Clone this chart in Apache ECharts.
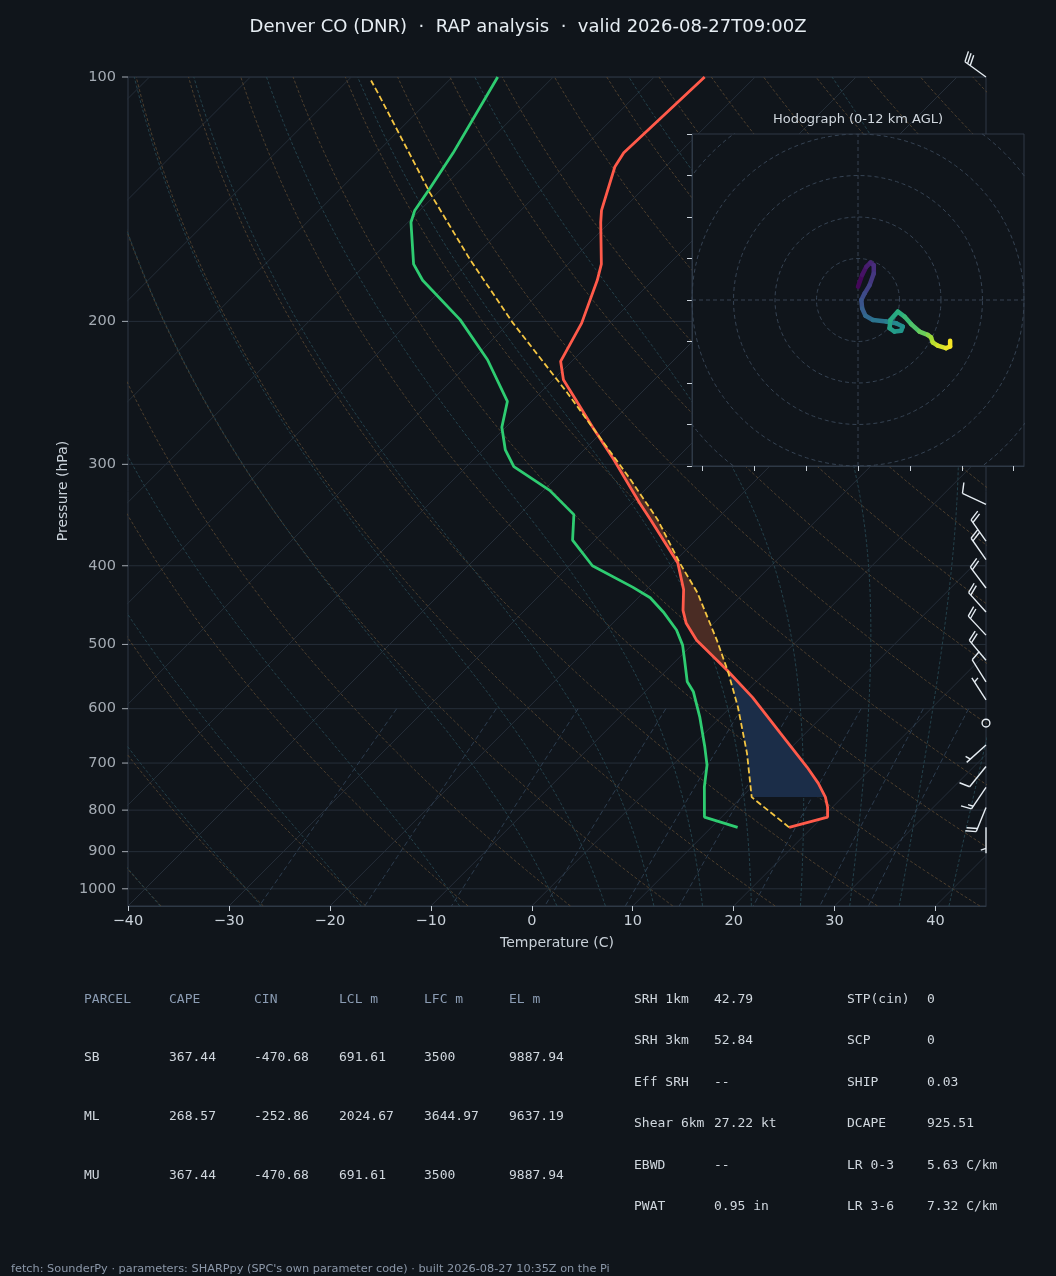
<!DOCTYPE html>
<html><head><meta charset="utf-8">
<script src="https://cdn.jsdelivr.net/npm/echarts@6/dist/echarts.min.js"></script>
<style>html,body{margin:0;padding:0;background:#10151b;}#c{width:1056px;height:1276px;}</style>
</head><body><div id="c"></div>
<script>
// ---------------- data ----------------
const tempP = [840, 816, 793, 771, 741, 708, 643, 581, 538, 494, 471, 454, 428, 397, 351, 335, 296, 270, 252, 236, 224, 201, 178, 170, 151, 146, 129, 124, 100];
const tempT = [17.7, 20.5, 19.5, 18.3, 16.2, 13.5, 7.5, 1.2, -4.0, -10.0, -12.7, -14.3, -16.3, -19.5, -26.5, -29.2, -36.1, -41.4, -45.3, -49.0, -51.1, -52.8, -55.5, -56.7, -60.9, -62.0, -65.0, -65.5, -65.0];
const dewP = [840, 816, 749, 704, 669, 614, 572, 556, 523, 501, 480, 456, 438, 425, 400, 372, 346, 323, 302, 288, 270, 251, 223, 199, 178, 170, 151, 146, 137, 124, 100];
const dewT = [12.6, 8.3, 5.3, 3.4, 1.4, -2.1, -5.2, -6.8, -9.2, -10.9, -13.0, -16.1, -18.8, -21.6, -27.7, -32.2, -34.6, -39.4, -45.3, -47.8, -50.4, -52.4, -58.5, -65.2, -72.8, -75.3, -79.7, -80.5, -81.2, -82.4, -85.5];
const parcelP = [840, 771, 681, 597, 541, 494, 432, 397, 351, 312, 245, 201, 168, 139, 105, 101];
const parcelT = [17.7, 11.0, 6.2, 0.7, -3.7, -8.0, -14.6, -19.3, -25.8, -32.7, -47.3, -59.6, -70.1, -80.7, -95.6, -97.7];
const capeLayer = [541, 270];   // LFC -> EL (hPa)
const cinLayer = [771, 541];    // LCL -> LFC (hPa)

const barbP   = [100, 336, 373, 393, 426, 456, 487, 523, 556, 585, 625, 665, 707, 750, 794, 840];
const barbSpd = [30, 10, 20, 20, 20, 20, 20, 20, 10, 5, 0, 5, 10, 15, 20, 5];
const barbDir = [306, 295, 325, 325, 323, 318, 317, 320, 328, 327, 0, 228, 219, 214, 202, 180];

const hodoU = [0, 1.0, 2.0, 3.0, 3.8, 3.8, 2.8, 1.6, 0.8, 1.0, 1.8, 3.6, 6.8, 9.2, 10.8, 10.4, 8.8, 7.6, 7.8, 9.6, 11.2, 12.8, 14.8, 16.8, 17.6, 18.0, 19.2, 21.2, 22.2, 22.2];
const hodoV = [3.2, 6.0, 8.0, 9.0, 8.4, 6.4, 3.6, 1.6, 0, -2.0, -3.8, -4.8, -5.2, -5.6, -6.4, -7.4, -7.6, -6.8, -4.8, -2.8, -4.0, -5.8, -7.6, -8.4, -9.0, -10.2, -11.0, -11.6, -11.2, -9.8];
const hodoH = [0, 0.4, 0.8, 1.1, 1.4, 1.7, 2.1, 2.5, 2.9, 3.3, 3.8, 4.3, 4.9, 5.4, 5.8, 6.1, 6.4, 6.7, 7.0, 7.4, 7.8, 8.3, 8.9, 9.5, 10.0, 10.5, 11.0, 11.5, 11.8, 12.0];

const pressureTicks = [100, 200, 300, 400, 500, 600, 700, 800, 900, 1000];
const tempTicks = [-40, -30, -20, -10, 0, 10, 20, 30, 40];
const hodoXTicks = [-37.5, -25, -12.5, 0, 12.5, 25, 37.5];
const hodoRings = [10, 20, 30, 40, 50, 60];
const mixingRatios = [0.0004, 0.001, 0.002, 0.004, 0.007, 0.01, 0.016, 0.024, 0.032];

const tableHeader = ['PARCEL', 'CAPE', 'CIN', 'LCL m', 'LFC m', 'EL m'];
const parcelNames = ['SB', 'ML', 'MU'];
const parcelCAPE = ['367.44', '268.57', '367.44'];
const parcelCIN = ['-470.68', '-252.86', '-470.68'];
const parcelLCL = ['691.61', '2024.67', '691.61'];
const parcelLFC = ['3500', '3644.97', '3500'];
const parcelEL = ['9887.94', '9637.19', '9887.94'];
const kinLabels = ['SRH 1km', 'SRH 3km', 'Eff SRH', 'Shear 6km', 'EBWD', 'PWAT'];
const kinValues = ['42.79', '52.84', '--', '27.22 kt', '--', '0.95 in'];
const idxLabels = ['STP(cin)', 'SCP', 'SHIP', 'DCAPE', 'LR 0-3', 'LR 3-6'];
const idxValues = ['0', '0', '0.03', '925.51', '5.63 C/km', '7.32 C/km'];

const titleText = 'Denver CO (DNR)  \u00b7  RAP analysis  \u00b7  valid 2026-08-27T09:00Z';
const footerText = "fetch: SounderPy \u00b7 parameters: SHARPpy (SPC's own parameter code) \u00b7 built 2026-08-27 10:35Z on the Pi";

// ---------------- layout / style ----------------
const G = {left: 128, top: 77, width: 858, height: 829};
const HG = {left: 692, top: 134, width: 332, height: 332};
const XMIN = -40, XMAX = 45, PTOP = 100, PBOT = 1050;
const K = (G.height / Math.log(PBOT / PTOP)) / (G.width / (XMAX - XMIN)); // 45 deg skew
const skew = (T, p) => [T + K * Math.log(PBOT / p), p];

const COL = {
  bg: '#10151b', spine: '#2e3946', iso: '#252e39', dry: '#4d3f2e', moist: '#24414b', mix: '#2d3d4f',
  text: '#c9d1d9', temp: '#ff5a4a', dew: '#2ecc71', parcel: '#f4c542',
  cape: '#4a2c24', cin: '#1b2d48', hdr: '#8b9cb3', foot: '#8b97a8'
};
const FONT = '"DejaVu Sans", sans-serif';
const MONO = '"DejaVu Sans Mono", monospace';

// ---------------- helpers ----------------
const logLevels = [];
for (let i = 0; i <= 70; i++) logLevels.push(PBOT * Math.pow(PTOP / PBOT, i / 70));

function moistT(t0C, p) {
  const Rd = 287.04749, Cp = 1004.6662, Lv = 2.50084e6, eps = 0.6219569;
  const f = (T, pp) => {
    const es = 6.112 * Math.exp(17.67 * (T - 273.15) / (T - 29.65));
    const rs = eps * es / (pp - es);
    return (Rd * T + Lv * rs) / (Cp + Lv * Lv * rs * eps / (Rd * T * T));
  };
  let T = t0C + 273.15, lp = Math.log(1000);
  const n = 40, h = (Math.log(p) - lp) / n;
  for (let i = 0; i < n; i++) {
    const p0 = Math.exp(lp), pm = Math.exp(lp + h / 2), p1 = Math.exp(lp + h);
    const k1 = f(T, p0), k2 = f(T + h / 2 * k1, pm), k3 = f(T + h / 2 * k2, pm), k4 = f(T + h * k3, p1);
    T += h / 6 * (k1 + 2 * k2 + 2 * k3 + k4);
    lp += h;
  }
  return T - 273.15;
}
function mixTd(w, p) {
  const e = p * w / (0.6219569 + w);
  const a = Math.log(e / 6.112);
  return 243.5 * a / (17.67 - a);
}
function interpT(P, T, p) {
  for (let i = 0; i < P.length - 1; i++) {
    const a = P[i], b = P[i + 1];
    if ((p <= a && p >= b)) {
      const f = (Math.log(p) - Math.log(a)) / (Math.log(b) - Math.log(a));
      return T[i] + f * (T[i + 1] - T[i]);
    }
  }
  return T[T.length - 1];
}
function layerPolygon(pLow, pHigh) {
  const pts = [skew(interpT(parcelP, parcelT, pLow), pLow)];
  parcelP.forEach((p, i) => { if (p < pLow && p > pHigh) pts.push(skew(parcelT[i], p)); });
  pts.push(skew(interpT(parcelP, parcelT, pHigh), pHigh));
  pts.push(skew(interpT(tempP, tempT, pHigh), pHigh));
  for (let i = tempP.length - 1; i >= 0; i--) {
    const p = tempP[i];
    if (p < pLow && p > pHigh) pts.push(skew(tempT[i], p));
  }
  pts.push(skew(interpT(tempP, tempT, pLow), pLow));
  return pts;
}
const viridis = ['#440154', '#472d7b', '#3b528b', '#2c728e', '#21918c', '#28ae80', '#5ec962', '#addc30', '#fde725'];
function viridisAt(f) {
  f = Math.max(0, Math.min(1, f));
  const x = f * (viridis.length - 1), i = Math.min(Math.floor(x), viridis.length - 2), t = x - i;
  const c0 = viridis[i], c1 = viridis[i + 1];
  const ch = (c, k) => parseInt(c.substr(1 + 2 * k, 2), 16);
  const r = [0, 1, 2].map(k => Math.round(ch(c0, k) + t * (ch(c1, k) - ch(c0, k))));
  return 'rgb(' + r.join(',') + ')';
}

// ---------------- series ----------------
const series = [];
function bgLine(data, color, type, z) {
  series.push({type: 'line', xAxisIndex: 0, yAxisIndex: 0, data, showSymbol: false, symbol: 'none', silent: true,
    clip: true, z: z || 1, lineStyle: {color, width: 1, type: type || 'solid'}, animation: false});
}
// isobars
pressureTicks.forEach(p => bgLine([[XMIN, p], [XMAX, p]], COL.iso));
// isotherms
for (let T = -130; T <= 40; T += 10) bgLine([skew(T, PBOT), skew(T, PTOP)], COL.iso);
// dry adiabats
for (let t0 = -40; t0 <= 240; t0 += 10) {
  bgLine(logLevels.map(p => skew((t0 + 273.15) * Math.pow(p / 1000, 0.28571) - 273.15, p)), COL.dry, [3, 2]);
}
// moist adiabats
const moistStarts = [-40, -30, -20, -10];
for (let t = 0; t <= 45; t += 5) moistStarts.push(t);
moistStarts.forEach(t0 => bgLine(logLevels.map(p => skew(moistT(t0, p), p)), COL.moist, [3, 2]));
// mixing ratio lines
const mixLevels = [];
for (let i = 0; i <= 20; i++) mixLevels.push(600 * Math.pow(PBOT / 600, i / 20));
mixingRatios.forEach(w => bgLine(mixLevels.map(p => skew(mixTd(w, p), p)), COL.mix, [5, 3]));

// CAPE / CIN fills
function fillSeries(poly, color) {
  series.push({type: 'custom', xAxisIndex: 0, yAxisIndex: 0, data: [[0, 500]], z: 3, silent: true, animation: false,
    renderItem: (params, api) => ({type: 'polygon', shape: {points: poly.map(pt => api.coord(pt))}, style: {fill: color}})});
}
fillSeries(layerPolygon(capeLayer[0], capeLayer[1]), COL.cape);
fillSeries(layerPolygon(cinLayer[0], cinLayer[1]), COL.cin);

// profiles
function profile(P, T, color, width, type) {
  series.push({type: 'line', xAxisIndex: 0, yAxisIndex: 0, data: P.map((p, i) => skew(T[i], p)), showSymbol: false,
    symbol: 'none', clip: true, z: 5, silent: true, animation: false, lineStyle: {color, width, type: type || 'solid'}});
}
profile(dewP, dewT, COL.dew, 2.8);
profile(tempP, tempT, COL.temp, 2.8);
profile(parcelP, parcelT, COL.parcel, 1.8, [6, 3]);

// pressure tick labels (left)
series.push({type: 'scatter', xAxisIndex: 0, yAxisIndex: 0, data: pressureTicks.map(p => [XMIN, p]), clip: false, z: 4,
  symbol: 'rect', symbolSize: [6, 1], symbolOffset: [-3, 0], itemStyle: {color: COL.text}, silent: true, animation: false,
  label: {show: true, position: 'left', distance: 6, color: COL.text, fontSize: 14.5, fontFamily: FONT,
    formatter: d => String(d.value[1])}});

// wind barbs
series.push({type: 'custom', xAxisIndex: 0, yAxisIndex: 0, z: 6, silent: true, animation: false, clip: false,
  data: barbP.map((p, i) => [XMAX, p, barbSpd[i], barbDir[i]]),
  renderItem: (params, api) => {
    const base = api.coord([api.value(0), api.value(1)]);
    const spd = api.value(2), dir = api.value(3) * Math.PI / 180;
    const st = {stroke: '#e6edf3', lineWidth: 1.4, fill: null};
    if (spd < 2.5) return {type: 'circle', shape: {cx: base[0], cy: base[1], r: 3.9}, style: st};
    const Ln = 26, sx = Math.sin(dir), sy = -Math.cos(dir);
    const px = -sy, py = sx;
    const tip = [base[0] + Ln * sx, base[1] + Ln * sy];
    const kids = [{type: 'line', shape: {x1: base[0], y1: base[1], x2: tip[0], y2: tip[1]}, style: st}];
    let s = Math.round(spd / 5) * 5;
    const nFull = Math.floor(s / 10), half = (s % 10) >= 5;
    const Hh = 0.4 * Ln, Ww = 0.25 * Ln, sp = 0.125 * Ln;
    let off = Ln;
    for (let k = 0; k < nFull; k++) {
      const P0 = [base[0] + off * sx, base[1] + off * sy];
      kids.push({type: 'line', shape: {x1: P0[0], y1: P0[1], x2: P0[0] + Hh * px + Ww / 2 * sx, y2: P0[1] + Hh * py + Ww / 2 * sy}, style: st});
      off -= sp;
    }
    if (half) {
      if (nFull === 0) off -= 1.5 * sp;
      const P0 = [base[0] + off * sx, base[1] + off * sy];
      kids.push({type: 'line', shape: {x1: P0[0], y1: P0[1], x2: P0[0] + Hh / 2 * px + Ww / 4 * sx, y2: P0[1] + Hh / 2 * py + Ww / 4 * sy}, style: st});
    }
    return {type: 'group', children: kids};
  }});

// hodograph rings and cross
hodoRings.forEach(r => {
  const pts = [];
  for (let a = 0; a <= 360; a += 3) pts.push([r * Math.cos(a * Math.PI / 180), r * Math.sin(a * Math.PI / 180)]);
  series.push({type: 'line', xAxisIndex: 1, yAxisIndex: 1, data: pts, showSymbol: false, symbol: 'none', clip: true, z: 10,
    silent: true, animation: false, lineStyle: {color: '#364353', width: 1, type: [4, 3]}});
});
[[[-40, 0], [40, 0]], [[0, -40], [0, 40]]].forEach(d => series.push({type: 'line', xAxisIndex: 1, yAxisIndex: 1, data: d,
  showSymbol: false, symbol: 'none', z: 10, silent: true, animation: false, lineStyle: {color: '#364353', width: 1, type: [4, 3]}}));
// hodograph trace
const hmax = hodoH[hodoH.length - 1];
series.push({type: 'custom', xAxisIndex: 1, yAxisIndex: 1, z: 11, silent: true, animation: false,
  data: hodoU.slice(0, -1).map((u, i) => [u, hodoV[i], hodoU[i + 1], hodoV[i + 1], (hodoH[i] + hodoH[i + 1]) / 2 / hmax]),
  renderItem: (params, api) => {
    const a = api.coord([api.value(0), api.value(1)]), b = api.coord([api.value(2), api.value(3)]);
    return {type: 'line', shape: {x1: a[0], y1: a[1], x2: b[0], y2: b[1]}, style: {stroke: viridisAt(api.value(4)), lineWidth: 4.5, lineCap: 'round'}};
  }});

// ---------------- graphic text ----------------
const gfx = [];
const txt = (text, x, y, font, fill, align, extra) => gfx.push(Object.assign({type: 'text', x, y, z: 20, silent: true,
  style: {text, font, fill, align: align || 'left', verticalAlign: 'middle'}}, extra || {}));
gfx.push({type: 'rect', shape: {x: HG.left, y: HG.top, width: HG.width, height: HG.height}, z: 8, silent: true,
  style: {fill: COL.bg, stroke: COL.spine, lineWidth: 1}});
txt(titleText, 528, 27, '18px ' + FONT, '#e6edf3', 'center');
txt('Hodograph (0-12 km AGL)', 858, 120, '13px ' + FONT, '#d0d7de', 'center');
txt('Temperature (C)', 557, 943, '14px ' + FONT, COL.text, 'center');
gfx.push({type: 'text', x: 63, y: 491, rotation: Math.PI / 2, z: 20, silent: true,
  style: {text: 'Pressure (hPa)', font: '14px ' + FONT, fill: COL.text, align: 'center', verticalAlign: 'middle'}});
const colX = [84, 169, 254, 339, 424, 509];
tableHeader.forEach((h, i) => txt(h, colX[i], 1000, '13px ' + MONO, COL.hdr));
const rowY = [1058, 1117, 1176];
[parcelNames, parcelCAPE, parcelCIN, parcelLCL, parcelLFC, parcelEL].forEach((col, ci) =>
  col.forEach((v, ri) => txt(v, colX[ci], rowY[ri], '13px ' + MONO, '#d0d7de')));
const rY = [1000, 1041, 1083, 1124, 1166, 1207];
kinLabels.forEach((l, i) => { txt(l, 634, rY[i], '13px ' + MONO, '#d0d7de'); txt(kinValues[i], 714, rY[i], '13px ' + MONO, '#d0d7de'); });
idxLabels.forEach((l, i) => { txt(l, 847, rY[i], '13px ' + MONO, '#d0d7de'); txt(idxValues[i], 927, rY[i], '13px ' + MONO, '#d0d7de'); });
txt(footerText, 11, 1269, '11.3px ' + FONT, COL.foot);

// ---------------- chart ----------------
const chart = echarts.init(document.getElementById('c'), null, {renderer: 'canvas'});
chart.setOption({
  backgroundColor: COL.bg,
  animation: false,
  grid: [
    Object.assign({show: true, borderColor: COL.spine, borderWidth: 1, backgroundColor: 'transparent', containLabel: false}, G),
    Object.assign({show: false, containLabel: false}, HG)
  ],
  xAxis: [
    {type: 'value', gridIndex: 0, min: XMIN, max: XMAX, interval: 10,
      axisLine: {show: true, onZero: false, lineStyle: {color: COL.spine}},
      axisTick: {show: true, length: 5, lineStyle: {color: COL.text}, customValues: tempTicks},
      axisLabel: {show: true, customValues: tempTicks, color: COL.text, fontSize: 14.5, fontFamily: FONT, margin: 8,
        formatter: v => (v < 0 ? '\u2212' + (-v) : String(v))},
      splitLine: {show: false}},
    {type: 'value', gridIndex: 1, min: -40, max: 40, interval: 10, z: 9,
      axisLine: {show: true, onZero: false, lineStyle: {color: COL.spine}},
      axisTick: {show: true, length: 5, lineStyle: {color: '#c9d1d9'}, customValues: hodoXTicks},
      axisLabel: {show: false}, splitLine: {show: false}}
  ],
  yAxis: [
    {type: 'log', gridIndex: 0, min: PTOP, max: PBOT, inverse: true, logBase: 10,
      axisLine: {show: false}, axisTick: {show: false}, axisLabel: {show: false}, splitLine: {show: false}, minorTick: {show: false}},
    {type: 'value', gridIndex: 1, min: -40, max: 40, interval: 10, z: 9,
      axisLine: {show: true, onZero: false, lineStyle: {color: COL.spine}},
      axisTick: {show: true, length: 5, lineStyle: {color: '#c9d1d9'}},
      axisLabel: {show: false}, splitLine: {show: false}}
  ],
  graphic: {elements: gfx},
  series
});
</script></body></html>
